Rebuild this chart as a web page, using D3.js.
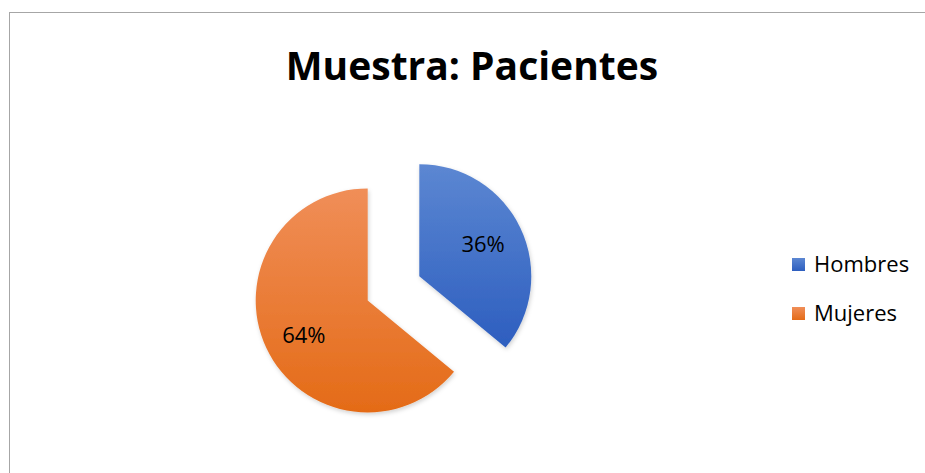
<!DOCTYPE html>
<html>
<head>
<meta charset="utf-8">
<script src="https://cdn.jsdelivr.net/npm/d3@7"></script>
<style>
  body { margin: 0; background: #fff; }
  svg { display: block; font-family: "Open Sans", "Liberation Sans", sans-serif; }
</style>
</head>
<body>
<svg id="canvas"></svg>
<script>
const categories = ["Hombres", "Mujeres"];
const values = [36, 64];
const titleText = "Muestra: Pacientes";

const topColors = ["#5c87d2", "#f08e58"];
const bottomColors = ["#2d5ebf", "#e46b17"];

const width = 925;
const height = 473;

const svg = d3.select("#canvas")
  .attr("width", width)
  .attr("height", height);

const defs = svg.append("defs");

// vertical gradients, lighter on top like the spreadsheet fill
categories.forEach((c, i) => {
  const g = defs.append("linearGradient")
    .attr("id", "grad-" + i)
    .attr("x1", 0).attr("y1", 0)
    .attr("x2", 0).attr("y2", 1);
  g.append("stop").attr("offset", "0%").attr("stop-color", topColors[i]);
  g.append("stop").attr("offset", "100%").attr("stop-color", bottomColors[i]);
});

const shadow = defs.append("filter")
  .attr("id", "shadow")
  .attr("x", "-20%").attr("y", "-20%")
  .attr("width", "140%").attr("height", "140%");
shadow.append("feDropShadow")
  .attr("dx", 1).attr("dy", 2)
  .attr("stdDeviation", 2)
  .attr("flood-color", "#000")
  .attr("flood-opacity", 0.18);

// chart area frame
svg.append("rect")
  .attr("x", 9.5)
  .attr("y", 12.5)
  .attr("width", 1000)
  .attr("height", 1000)
  .attr("fill", "none")
  .attr("stroke", "#a6a6a6")
  .attr("stroke-width", 1);

svg.append("text")
  .attr("x", 472)
  .attr("y", 80)
  .attr("text-anchor", "middle")
  .attr("font-size", 39)
  .attr("font-weight", "bold")
  .attr("fill", "#000")
  .text(titleText);

// pie
const cx = 393.5;
const cy = 288.3;
const radius = 112;
const explode = 28.5;

const pie = d3.pie().sort(null).value(d => d);
const arcs = pie(values);
const arc = d3.arc().innerRadius(0).outerRadius(radius);
const labelArc = d3.arc().innerRadius(radius * 0.63).outerRadius(radius * 0.63);

const total = d3.sum(values);
// small vertical nudge so labels sit like the original ones
const labelNudge = [-2, 5];

const slice = svg.append("g")
  .attr("transform", `translate(${cx},${cy})`)
  .selectAll("g")
  .data(arcs)
  .enter()
  .append("g")
  .attr("transform", d => {
    const mid = (d.startAngle + d.endAngle) / 2;
    return `translate(${Math.sin(mid) * explode},${-Math.cos(mid) * explode})`;
  });

slice.append("path")
  .attr("d", arc)
  .attr("fill", (d, i) => `url(#grad-${i})`)
  .attr("filter", "url(#shadow)");

slice.append("text")
  .attr("transform", (d, i) => {
    const [x, y] = labelArc.centroid(d);
    return `translate(${x},${y + labelNudge[i]})`;
  })
  .attr("text-anchor", "middle")
  .attr("dy", "0.36em")
  .attr("font-size", 22)
  .attr("fill", "#000")
  .text(d => Math.round(d.value / total * 100) + "%");

// legend
const legend = svg.append("g")
  .selectAll("g")
  .data(categories)
  .enter()
  .append("g")
  .attr("transform", (d, i) => `translate(792,${258 + i * 49})`);

legend.append("rect")
  .attr("width", 13)
  .attr("height", 13)
  .attr("fill", (d, i) => `url(#grad-${i})`);

legend.append("text")
  .attr("x", 22)
  .attr("y", 14)
  .attr("font-size", 22)
  .attr("fill", "#000")
  .text(d => d);
</script>
</body>
</html>
